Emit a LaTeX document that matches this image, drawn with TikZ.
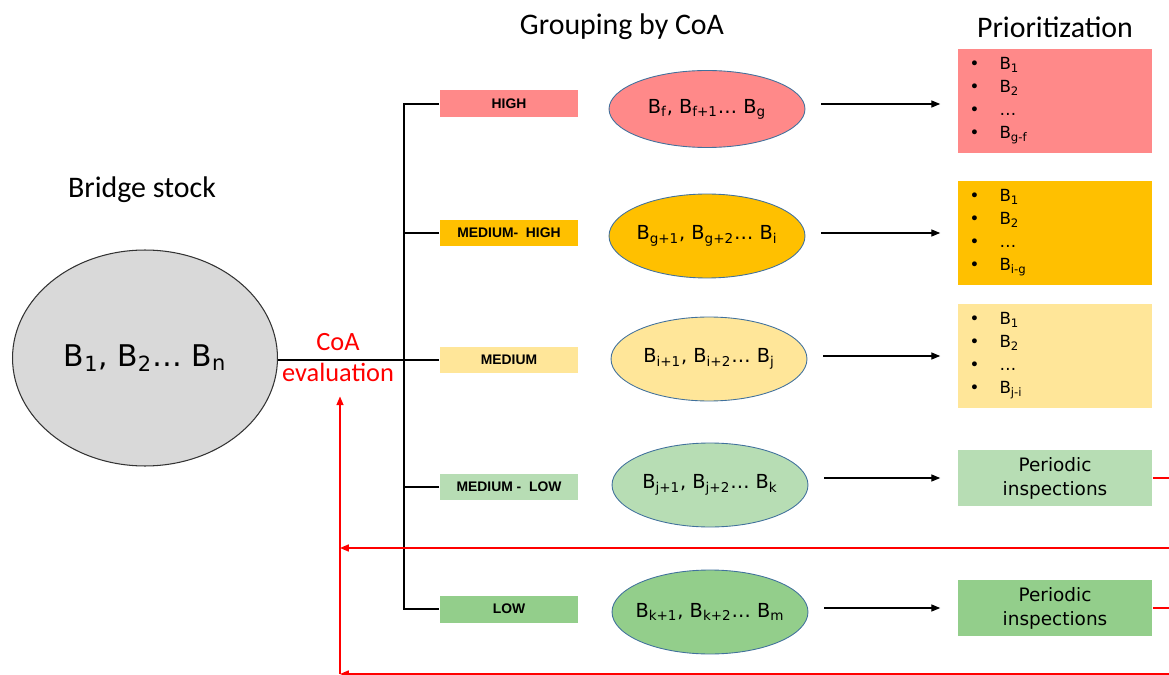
\documentclass[tikz,border=0pt]{standalone}
\usepackage{fontspec}
\setmainfont{Carlito}
\newfontfamily\verdfont{DejaVu Sans}
\newfontfamily\arialfont{Liberation Sans}
\usetikzlibrary{shapes.geometric, arrows.meta, positioning, calc}
\definecolor{cohigh}{RGB}{255,137,137}
\definecolor{comedhigh}{RGB}{255,192,0}
\definecolor{comed}{RGB}{255,230,153}
\definecolor{comedlow}{RGB}{183,221,180}
\definecolor{colow}{RGB}{147,206,139}
\definecolor{stockgrey}{RGB}{217,217,217}
\definecolor{rimblue}{RGB}{65,113,156}
\newcommand{\bl}[1]{\makebox[0.6cm][l]{\textbullet}#1}
\tikzset{
  level/.style={rectangle, minimum width=2.78cm, minimum height=0.54cm,
    inner sep=0pt, font=\arialfont\bfseries\fontsize{7.9}{9}\selectfont},
  group/.style={ellipse, draw=rimblue, line width=0.5pt, minimum width=3.92cm,
    minimum height=1.68cm, inner xsep=-0.3cm, inner ysep=0pt,
    font=\verdfont\fontsize{11}{13}\selectfont},
  prio/.style={rectangle, minimum width=3.9cm, minimum height=2.08cm,
    inner xsep=0.24cm, text width=3.42cm, align=left,
    font=\verdfont\fontsize{9.5}{13}\selectfont},
  insp/.style={rectangle, minimum width=3.9cm, minimum height=1.12cm,
    align=center, font=\verdfont\fontsize{10.5}{13.6}\selectfont},
  title/.style={font=\fontsize{17}{20}\selectfont},
  arrow/.style={-{Triangle[length=5pt,width=4pt]}, line width=0.6pt,
    shorten <=0.32cm, shorten >=0.34cm},
  line/.style={line width=1.1pt},
  redline/.style={red, line width=0.8pt},
  redarrow/.style={redline, -{Triangle[length=5pt,width=4pt]}}
}
\begin{document}
\begin{tikzpicture}[x=0.02cm, y=-0.02cm]
  \useasboundingbox (0,0) rectangle (1169,675);

  % Titles
  \node[title] (t1) at (142,190) {Bridge stock};
  \node[title] (t2) at (622,27) {Grouping by CoA};
  \node[title] (t3) at (1055,27) {Prioritization};

  % Bridge stock
  \node[ellipse, draw=black!80, fill=stockgrey, line width=0.6pt,
    minimum width=5.3cm, minimum height=4.32cm, inner sep=0pt,
    font=\verdfont\fontsize{17}{20}\selectfont] (stock) at (145,358)
    {B\textsubscript{1}, B\textsubscript{2}\ldots{} B\textsubscript{n}};
  \node[red, align=center, inner sep=0pt, font=\fontsize{15}{17.6}\selectfont] (eval) at (338,358) {CoA\\evaluation};

  % CoA levels
  \node[level, fill=cohigh] (lv1) at (509,104) {HIGH};
  \node[level, fill=comedhigh] (lv2) at (509,233) {MEDIUM-~ HIGH};
  \node[level, fill=comed] (lv3) at (509,360) {MEDIUM};
  \node[level, fill=comedlow] (lv4) at (509,487) {MEDIUM -~ LOW};
  \node[level, fill=colow] (lv5) at (509,609) {LOW};

  % Groups
  \node[group, fill=cohigh, minimum height=1.54cm] (g1) at (707,109)
    {B\textsubscript{f}, B\textsubscript{f+1}\ldots{} B\textsubscript{g}};
  \node[group, fill=comedhigh] (g2) at (707,236)
    {B\textsubscript{g+1}, B\textsubscript{g+2}\ldots{} B\textsubscript{i}};
  \node[group, fill=comed] (g3) at (709,359)
    {B\textsubscript{i+1}, B\textsubscript{i+2}\ldots{} B\textsubscript{j}};
  \node[group, fill=comedlow] (g4) at (710,485)
    {B\textsubscript{j+1}, B\textsubscript{j+2}\ldots{} B\textsubscript{k}};
  \node[group, fill=colow] (g5) at (710,612)
    {B\textsubscript{k+1}, B\textsubscript{k+2}\ldots{} B\textsubscript{m}};

  % Prioritization
  \node[prio, fill=cohigh] (p1) at (1055,101)
    {\bl{B\textsubscript{1}}\\ \bl{B\textsubscript{2}}\\ \bl{\ldots}\\ \bl{B\textsubscript{g-f}}};
  \node[prio, fill=comedhigh] (p2) at (1055,233)
    {\bl{B\textsubscript{1}}\\ \bl{B\textsubscript{2}}\\ \bl{\ldots}\\ \bl{B\textsubscript{i-g}}};
  \node[prio, fill=comed] (p3) at (1055,356)
    {\bl{B\textsubscript{1}}\\ \bl{B\textsubscript{2}}\\ \bl{\ldots}\\ \bl{B\textsubscript{j-i}}};
  \node[insp, fill=comedlow] (p4) at (1055,478) {Periodic\\inspections};
  \node[insp, fill=colow] (p5) at (1055,608) {Periodic\\inspections};

  % Connections
  \coordinate (split) at (404,360);
  \draw[line] (stock.east |- split) -- (split);
  \draw[line] (lv1.west) -- (lv1.west -| split) -- (lv5.west -| split) -- (lv5.west);
  \draw[line] (lv2.west) -- (lv2.west -| split);
  \draw[line] (lv3.west) -- (lv3.west -| split);
  \draw[line] (lv4.west) -- (lv4.west -| split);
  \draw[arrow] (g1.east |- lv1.east) -- (p1.west |- lv1.east);
  \draw[arrow] (g2.east |- p2.west) -- (p2.west);
  \draw[arrow] (g3.east |- p3.west) -- (p3.west);
  \draw[arrow] (g4.east |- p4.west) -- (p4.west);
  \draw[arrow] (g5.east |- p5.west) -- (p5.west);

  % Feedback loop
  \coordinate (rim) at (1169,0);
  \coordinate (back) at (340,674);
  \draw[redline] (p4.east) -- (p4.east -| rim);
  \draw[redline] (p5.east) -- (p5.east -| rim);
  \draw[redarrow] (rim |- 0,548) -- (back |- 0,548);
  \draw[redarrow] (rim |- back) -- (back);
  \draw[redarrow, shorten >=0.28cm] (back) -- (back |- eval.south);
\end{tikzpicture}
\end{document}
